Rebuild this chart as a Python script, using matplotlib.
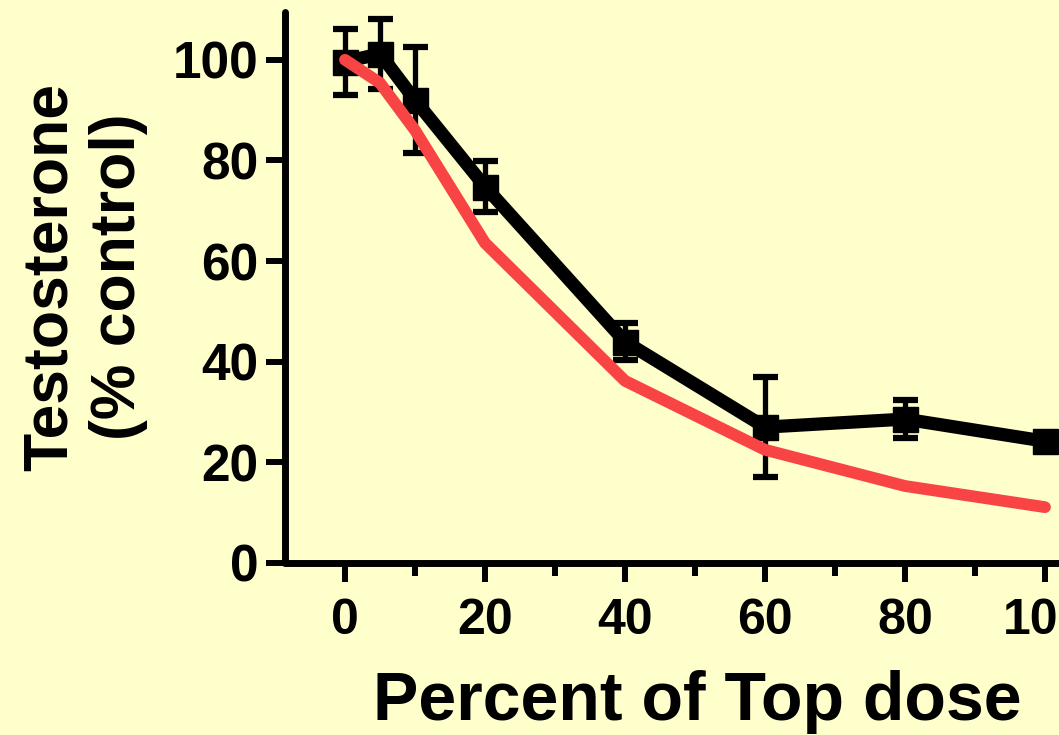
import numpy as np
import matplotlib.pyplot as plt
from matplotlib.ticker import MultipleLocator

# data
dose = [0, 5, 10, 20, 40, 60, 80, 100]
testo_mean = [99.6, 101.2, 92.0, 74.8, 44.0, 27.0, 28.6, 24.2]
testo_err = [6.6, 7.0, 10.5, 5.0, 3.6, 10.0, 3.8, 0.0]
predicted = [100.0, 95.4, 86.0, 63.6, 36.2, 22.5, 15.3, 11.1]

bg = '#ffffcc'
red = '#f84444'
narrow = ['Liberation Sans Narrow', 'Liberation Sans', 'DejaVu Sans']
wide = ['Liberation Sans', 'DejaVu Sans']

fig = plt.figure(figsize=(10.59, 7.35), dpi=100, facecolor=bg)
ax = fig.add_axes([285 / 1059, 172 / 735, 774 / 1059, 551 / 735], facecolor=bg)

ax.errorbar(dose, testo_mean, yerr=testo_err, color='black', lw=9.5,
            marker='s', ms=18, elinewidth=3.8, capsize=9, capthick=4.5,
            solid_capstyle='round', zorder=2, clip_on=False)
ax.plot(dose, predicted, color=red, lw=8.5, solid_capstyle='round',
        solid_joinstyle='round', zorder=3, clip_on=False)

ax.set_xlim(-8.57, 102)
ax.set_ylim(0, 109.5)
ax.set_xticks([0, 20, 40, 60, 80, 100])
ax.set_yticks([0, 20, 40, 60, 80, 100])
ax.xaxis.set_minor_locator(MultipleLocator(10))

for s in ['top', 'right']:
    ax.spines[s].set_visible(False)
for s in ['left', 'bottom']:
    ax.spines[s].set_linewidth(5)
    ax.spines[s].set_capstyle('round')

ax.tick_params(which='major', length=14, width=4.3, direction='out', color='black')
ax.tick_params(axis='x', which='minor', length=9, width=4.3, direction='out')
ax.tick_params(axis='y', pad=5)
ax.tick_params(axis='x', pad=11)

for lab in ax.get_yticklabels():
    lab.set_fontfamily(wide)
    lab.set_fontweight('bold')
    lab.set_fontsize(37)
for lab in ax.get_xticklabels():
    lab.set_fontfamily(narrow)
    lab.set_fontweight('bold')
    lab.set_fontsize(36)

fig.text(697 / 1059, 1 - 702 / 735, 'Percent of Top dose', ha='center', va='center',
         fontsize=49, fontweight='bold', family=narrow)
fig.text(84 / 1059, 1 - 277 / 735, 'Testosterone\n(% control)', ha='center', va='center',
         rotation=90, fontsize=45, fontweight='bold', family=wide,
         multialignment='center', linespacing=1.2)

fig.savefig('out.png', dpi=100, facecolor=bg)
